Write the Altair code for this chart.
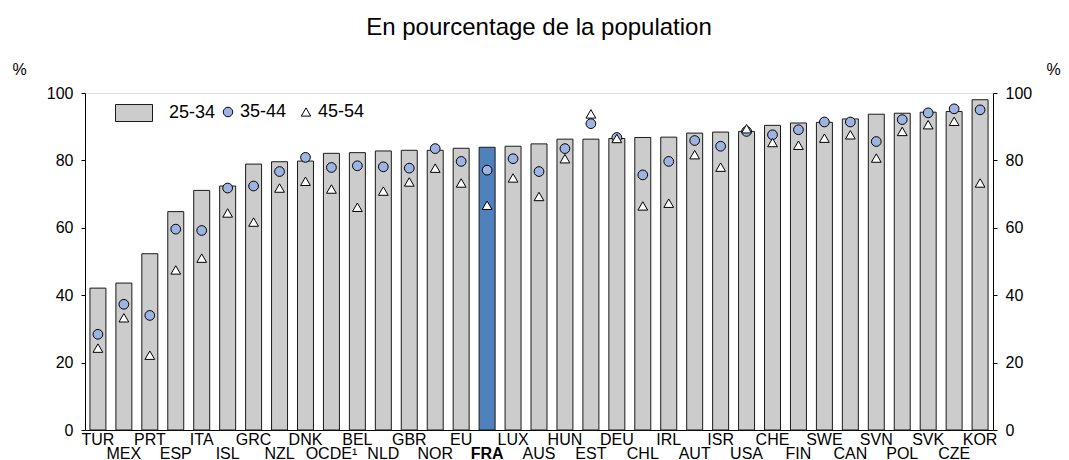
import altair as alt
import pandas as pd

# ---- data ----
pays = ["TUR", "MEX", "PRT", "ESP", "ITA", "ISL", "GRC", "NZL", "DNK", "OCDE¹",
        "BEL", "NLD", "GBR", "NOR", "EU", "FRA", "LUX", "AUS", "HUN", "EST",
        "DEU", "CHL", "IRL", "AUT", "ISR", "USA", "CHE", "FIN", "SWE", "CAN",
        "SVN", "POL", "SVK", "CZE", "KOR"]
v25_34 = [42.1, 43.6, 52.3, 64.8, 71.1, 72.4, 78.9, 79.6, 79.8, 82.1,
          82.3, 82.8, 83.0, 83.0, 83.6, 83.9, 84.2, 84.9, 86.3, 86.3,
          86.5, 86.8, 86.9, 88.1, 88.4, 88.6, 90.4, 91.1, 91.3, 92.3,
          93.7, 94.0, 94.3, 94.5, 98.0]
v35_44 = [28.4, 37.3, 34.0, 59.6, 59.2, 71.8, 72.4, 76.7, 80.9, 77.9,
          78.4, 78.1, 77.7, 83.5, 79.7, 77.1, 80.5, 76.7, 83.5, 90.9,
          86.8, 75.7, 79.7, 85.9, 84.2, 88.6, 87.6, 89.1, 91.4, 91.4,
          85.6, 92.1, 94.1, 95.3, 95.0]
v45_54 = [24.3, 33.3, 22.2, 47.5, 51.0, 64.4, 61.7, 71.8, 73.8, 71.5,
          66.1, 70.9, 73.6, 77.7, 73.3, 66.7, 74.8, 69.3, 80.5, 93.8,
          86.5, 66.5, 67.3, 81.7, 78.0, 89.4, 85.3, 84.5, 86.6, 87.6,
          80.7, 88.6, 90.6, 91.6, 73.3]
y_ticks = [0, 20, 40, 60, 80, 100]
groupes = ["25-34", "35-44", "45-54"]
title_text = "En pourcentage de la population"

df = pd.DataFrame({"pays": pays, "25-34": v25_34, "35-44": v35_44, "45-54": v45_54})
df["grp"] = groupes[0]

FONT = "Liberation Sans"
odd = pays[1::2]
odd_expr = "indexof([" + ",".join("'" + p + "'" for p in odd) + "], datum.value) >= 0"

x_enc = alt.X(
    "pays:N", sort=pays, title=None,
    scale=alt.Scale(paddingInner=0.384, paddingOuter=0.19),
    axis=alt.Axis(
        labelAngle=0, ticks=False, labelFontSize=16, labelColor="black",
        labelFont=FONT, labelOverlap=False, labelLimit=0,
        domainColor="black",
        labelPadding={"condition": {"test": odd_expr, "value": 15}, "value": 1},
        labelFontWeight={"condition": {"test": "datum.value == 'FRA'", "value": "bold"},
                         "value": "normal"},
    ),
)

yscale = alt.Scale(domain=[0, 100], nice=False)

axis_common = dict(
    values=y_ticks, grid=False, title="%", titleAngle=0, titleY=-24,
    titleAlign="left", titleBaseline="middle", titleFontSize=16, titleFontWeight="normal",
    titleFont=FONT, titleColor="black", labelFontSize=16, labelFont=FONT, labelColor="black",
    tickSize=4, tickColor="black", domainColor="black", labelPadding=8,
)
left_axis = alt.Axis(titleX=-73, **axis_common)
right_axis = alt.Axis(orient="right", titleX=53, **axis_common)

bars = alt.Chart(df).mark_bar(stroke="#1a1a1a", strokeWidth=1).encode(
    x=x_enc,
    y=alt.Y("25-34:Q", scale=yscale, axis=left_axis),
    color=alt.condition(
        "datum.pays == 'FRA'",
        alt.value("#4f81bd"),
        alt.Color("grp:N", scale=alt.Scale(domain=[groupes[0]], range=["#cccccc"]),
                  legend=alt.Legend(
                      title=None, orient="none", legendX=30, legendY=1, padding=0,
                      symbolType="M-1,-0.46H1V0.46H-1Z", symbolSize=1369,
                      symbolStrokeColor="#1a1a1a", symbolStrokeWidth=1,
                      labelFontSize=18, labelFont=FONT, labelColor="black", labelOffset=16,
                  )),
    ),
)

pt_legend = dict(
    title=None, orient="none", direction="horizontal", legendX=134,
    legendY=10, padding=0, symbolSize=90, symbolStrokeWidth=1,
    labelFontSize=18, labelFont=FONT,
    labelColor="black", labelOffset=3, columnPadding=10,
)

points = alt.Chart(df).transform_fold(groupes[1:], as_=["age", "val"]).mark_point(
    filled=True, strokeWidth=1, size=95, opacity=1
).encode(
    x=x_enc,
    y=alt.Y("val:Q", scale=yscale, axis=right_axis),
    shape=alt.Shape("age:N", scale=alt.Scale(domain=groupes[1:], range=["circle", "triangle-up"]),
                    legend=alt.Legend(**pt_legend)),
    fill=alt.Fill("age:N", scale=alt.Scale(domain=groupes[1:], range=["#9db4e3", "#ffffff"]),
                  legend=alt.Legend(**pt_legend)),
    stroke=alt.Stroke("age:N", scale=alt.Scale(domain=groupes[1:], range=["#000000", "#000000"]),
                      legend=alt.Legend(**pt_legend)),
)

chart = alt.layer(bars, points).resolve_axis(y="independent").properties(
    width=908, height=337,
    title=alt.TitleParams(title_text, fontSize=24, fontWeight="normal", font=FONT,
                          color="black", offset=21, anchor="middle", frame="group"),
    autosize=alt.AutoSizeParams(type="none"),
    padding={"left": 77, "top": 85, "right": 68, "bottom": 30},
).configure_view(stroke="black", strokeWidth=1).configure(font=FONT)

chart.save("out.html", embed_options={"renderer": "svg", "actions": False})
